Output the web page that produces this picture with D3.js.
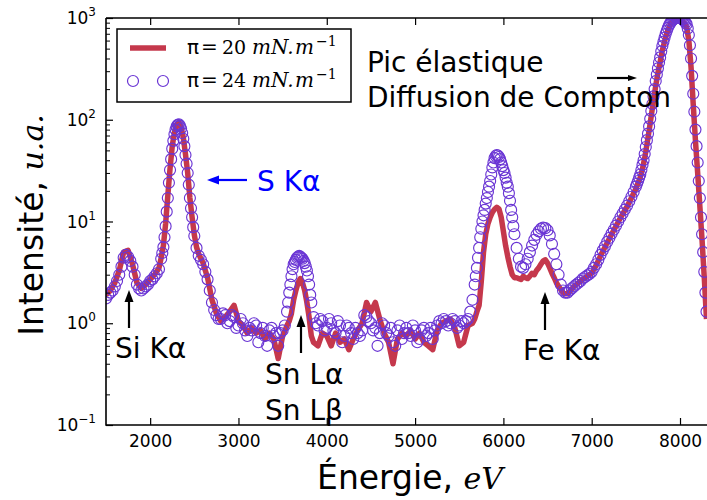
<!DOCTYPE html>
<html><head><meta charset="utf-8">
<script src="https://cdn.jsdelivr.net/npm/d3@7"></script>
<style>body{margin:0;background:#fff} svg{display:block}</style>
</head><body>
<svg id="chart" width="707" height="500"></svg>
<script>
// ---------------- DATA ----------------
// energies of the pi = 20 mN/m line
const energy20 = [1500,1550,1600,1650,1700,1750,1800,1850,1900,1950,2000,2050,
2100,2125,2150,2175,2200,2225,2250,2275,2300,2325,2350,2375,2400,2425,2450,2475,2500,2525,2550,2575,2600,2625,
2650,2700,2750,2800,2850,2900,2950,3000,3050,3100,3150,3200,3250,3300,3350,3400,3450,3500,
3550,3575,3600,3625,3650,3675,3700,3725,3750,3775,3800,3825,
3850,3900,3950,4000,4050,4100,4150,4200,4250,4300,4350,4400,4450,4500,4550,4600,4650,4700,4750,4800,4850,4900,4950,5000,5050,5100,5150,5200,5250,5300,5350,5400,5450,5500,5550,5600,
5650,5675,5700,5725,5750,5775,5800,5825,5850,5875,5900,5925,5950,5975,6000,6025,6050,6075,6100,6125,6150,6175,6200,6225,6250,6275,6300,6325,6350,6375,6400,6425,6450,6475,6500,6525,6550,6575,6600,6625,6650,6675,6700,6725,
6750,6800,6850,6900,6950,7000,7050,7100,7150,7200,7250,7300,7350,7400,
7450,7475,7500,7525,7550,7575,7600,7625,7650,7675,7700,7725,7750,7775,7800,7825,7850,7875,7900,7925,7950,7975,8000,8025,8050,8075,8100,8125,8150,8175,8200,8225,8250,8275,8300];

// intensity, pi = 20 mN/m (line)
const pi20 = [1.9,2.1,2.5,3.3,5.0,5.2,3.8,2.5,2.2,2.4,2.7,3.0,
3.5,4.4,5.8,9.5,18,33,55,75,90,94,85,67,46,30,17,11,7.4,5.6,4.8,4.3,3.9,3.3,
2.8,1.7,1.25,1.05,1.15,1.3,1.5,1.05,0.95,0.8,0.9,0.8,0.85,0.7,0.8,0.7,0.45,0.75,
0.95,1.05,1.25,1.7,2.1,2.5,2.75,2.5,2.1,1.6,1.15,0.75,
0.65,0.6,0.8,0.75,0.6,0.8,0.65,0.7,0.55,0.7,0.85,1.0,1.6,1.3,1.6,1.1,0.8,0.65,0.4,0.7,0.8,0.75,0.85,0.7,0.8,0.65,0.6,0.55,0.85,1.0,1.05,1.1,0.9,0.6,0.65,0.95,
1.0,1.1,1.3,1.5,2.6,5.0,7.5,9.5,11,12.3,13.2,13.8,13.3,11,8,5.8,4.5,3.6,3.0,2.8,2.8,2.75,2.7,2.9,2.8,2.75,2.9,3.1,3.0,3.3,3.5,3.8,4.1,4.2,3.9,3.5,3.1,2.8,2.5,2.3,2.15,2.0,1.95,1.95,
2.05,2.3,2.5,2.7,2.9,3.1,3.7,4.6,5.6,6.8,8.2,9.9,11.8,14,
17,19,21,24,27,33,42,57,78,110,155,215,290,370,480,590,700,810,890,940,970,980,970,940,890,810,600,330,140,62,30,14,6.5,2.8,1.1];

// energies of the pi = 24 mN/m points (regular samples)
const energy24 = [1500,1525,1550,1575,1600,1625,1650,1675,1700,1725,1750,1775,1800,1825,1850,1875,1900,1925,1950,1975,
2000,2025,2050,2075,2100,2125,2150,2175,2200,2225,2250,2275,2300,2325,2350,2375,2400,2425,2450,2475,
2500,2525,2550,2575,2600,2625,2650,2675,2700,2725,2750,2775,2800,2825,2850,2875,2900,2925,2950,2975,
3000,3025,3050,3075,3100,3125,3150,3175,3200,3225,3250,3275,3300,3325,3350,3375,3400,3425,3450,3475,
3500,3525,3550,3575,3600,3625,3650,3675,3700,3725,3750,3775,3800,3825,3850,3875,3900,3925,3950,3975,
4000,4025,4050,4075,4100,4125,4150,4175,4200,4225,4250,4275,4300,4325,4350,4375,4400,4425,4450,4475,
4500,4525,4550,4575,4600,4625,4650,4675,4700,4725,4750,4775,4800,4825,4850,4875,4900,4925,4950,4975,
5000,5025,5050,5075,5100,5125,5150,5175,5200,5225,5250,5275,5300,5325,5350,5375,5400,5425,5450,5475,
5500,5525,5550,5575,5600,5625,5650,5675,5700,5725,5750,5775,5800,5825,5850,5875,5900,5925,5950,5975,
6000,6025,6050,6075,6100,6125,6150,6175,6200,6225,6250,6275,6300,6325,6350,6375,6400,6425,6450,6475,
6500,6525,6550,6575,6600,6625,6650,6675,6700,6725,6750,6775,6800,6825,6850,6875,6900,6925,6950,6975,
7000,7025,7050,7075,7100,7125,7150,7175,7200,7225,7250,7275,7300,7325,7350,7375,7400,7425,7450,7475,
7500,7525,7550,7575,7600,7625,7650,7675,7700,7725,7750,7775,7800,7825,7850,7875,7900,7925,7950,7975,
8000,8025,8050,8075,8100,8125,8150,8175,8200,8225,8250,8275,8300];

// intensity, pi = 24 mN/m (open circles)
const pi24 = [1.75,1.9,2.0,2.1,2.3,2.6,
3.0,3.6,4.4,4.7,4.5,4.1,3.6,3.0,2.4,2.2,2.1,2.2,2.3,2.4,2.6,2.7,2.9,3.1,
3.4,4.3,5.6,9,17,32,52,72,86,90,82,65,45,30,17,11,7.2,5.5,4.6,4.2,3.8,3.2,
2.7,2.1,1.6,1.35,1.2,1.1,1.1,1.25,1.2,1.0,1.05,1.2,1.15,0.9,0.95,1.1,1.0,0.85,0.75,0.9,0.85,1.0,0.95,0.65,0.8,0.9,0.75,0.6,0.85,0.9,0.75,0.8,0.6,0.8,0.85,0.95,
1.3,2.0,2.9,3.8,4.2,4.5,4.5,4.3,3.9,3.3,2.4,1.6,
1.15,1.0,0.95,1.1,1.05,0.85,0.9,1.1,1.0,0.85,0.8,1.05,0.95,0.65,0.75,0.95,0.9,0.8,0.7,0.9,0.8,0.75,0.85,1.2,1.15,1.05,1.0,0.85,0.9,0.6,0.8,1.0,0.95,0.8,0.75,0.9,0.65,0.6,0.85,0.95,
0.7,0.8,0.9,0.8,0.75,0.95,0.85,0.65,0.7,0.85,0.9,0.75,0.8,0.9,0.7,0.85,0.95,1.05,1.0,1.1,1.05,0.95,1.0,1.1,1.05,0.9,0.95,1.05,1.0,1.05,1.1,1.3,
1.7,2.4,3.5,5.5,8.5,11.5,15,19.5,25,34,42,45,43,38,32,27,22,16,11,7.5,5.5,4.3,3.6,3.5,3.8,4.3,5.0,5.8,6.6,7.4,8.0,8.5,8.7,8.6,8.2,7.3,6.0,4.8,3.8,3.0,2.4,2.1,2.0,2.0,
2.1,2.2,2.3,2.4,2.5,2.6,2.75,2.85,2.95,3.05,3.2,3.5,3.8,4.2,4.7,5.2,5.7,6.3,6.9,7.6,8.3,9.1,10,11,12,13.1,14.3,15.8,
17.5,19.5,22,25,29,36,46,63,86,122,170,240,320,410,530,640,750,850,920,970,1000,1010,1000,980,930,870,680,400,180,80,38,17,7.5,3.2,1.3];

// extra pi = 24 samples on the steep peak flanks
const energy24Peaks = [2137.5,2162.5,2187.5,2212.5,2237.5,2262.5,2287.5,2312.5,2337.5,2362.5,2387.5,2412.5,2437.5,2462.5,2487.5,
3562.5,3587.5,3612.5,3637.5,3662.5,3687.5,3712.5,3737.5,3762.5,3787.5,3812.5,
5687.5,5712.5,5737.5,5762.5,5787.5,5812.5,5837.5,5862.5,5887.5,5912.5,5937.5,5962.5,5987.5,6012.5,6037.5,6062.5,6087.5,6112.5,
7512.5,7537.5,7562.5,7587.5,7612.5,7637.5,7662.5,7687.5,7712.5,7737.5,7762.5,7787.5,7812.5,7837.5,7862.5,7887.5,7912.5,7937.5,7962.5,7987.5,8012.5,8037.5,8062.5,8087.5,8112.5,8137.5,8162.5,8187.5,8212.5,8237.5,8262.5,8287.5];
const pi24Peaks = [4.9,7.0,12.5,24,41,62,80,89,87,74,55,37,23,13.5,8.8,
1.6,2.4,3.4,4.0,4.4,4.6,4.4,4.1,3.6,2.9,1.9,
2.9,4.4,7.0,10,13,17,22,29,38,44,44.5,41,35,30,24,19,13,9,
23.5,27,32,40,54,73,102,143,200,278,365,470,585,695,800,885,945,985,1005,1005,990,955,900,790,540,270,120,55,25,11,5,2];

const xTicks = [2000,3000,4000,5000,6000,7000,8000];
const yTickExponents = [-1,0,1,2,3];
const seriesNames = ["20","24"];

// ---------------- LAYOUT ----------------
const svg = d3.select("#chart");
const L = 106, R = 706.5, T = 18, B = 425;
const x = d3.scaleLinear().domain([1500, 8300]).range([L, R]);
const y = d3.scaleLog().domain([0.1, 1000]).range([B, T]);
const RED = "#c5384c", PURPLE = "#6a35d4";
const SANS = "DejaVu Sans", SERIF = "DejaVu Serif";

svg.append("defs").append("clipPath").attr("id","clip")
  .append("rect").attr("x",L).attr("y",T).attr("width",R-L+2).attr("height",B-T);

const dataG = svg.append("g").attr("clip-path","url(#clip)");
const pts20 = energy20.map((e,i)=>({e, v:pi20[i]}));
const pts24 = energy24.map((e,i)=>({e, v:pi24[i]}))
  .concat(energy24Peaks.map((e,i)=>({e, v:pi24Peaks[i]})));

dataG.append("path").datum(pts20)
  .attr("d", d3.line().x(d=>x(d.e)).y(d=>y(d.v)))
  .attr("fill","none").attr("stroke",RED).attr("stroke-width",5.5)
  .attr("stroke-linejoin","round");

dataG.selectAll("circle.p24").data(pts24).enter().append("circle")
  .attr("class","p24")
  .attr("cx",d=>x(d.e)).attr("cy",d=>y(d.v)).attr("r",5.5)
  .attr("fill","none").attr("stroke",PURPLE).attr("stroke-width",1.15);

// ---------------- AXES ----------------
const axB = svg.append("g").attr("transform",`translate(0,${B})`)
  .call(d3.axisBottom(x).tickValues(xTicks).tickFormat(d3.format("d")).tickSizeInner(-7).tickSizeOuter(0).tickPadding(10));
axB.select(".domain").remove();
axB.selectAll("text").attr("font-family",SANS).attr("font-size",17).attr("fill","#000");
axB.selectAll("line").attr("stroke","#000").attr("stroke-width",1.2);

const axT = svg.append("g").attr("transform",`translate(0,${T})`)
  .call(d3.axisTop(x).tickValues(xTicks).tickSizeInner(-7).tickSizeOuter(0).tickFormat(""));
axT.select(".domain").remove();
axT.selectAll("line").attr("stroke","#000").attr("stroke-width",1.2);

const majorY = yTickExponents.map(p=>Math.pow(10,p));
const minorY = y.ticks().filter(v=>!majorY.some(m=>Math.abs(m-v)/m<1e-6));
const axL = svg.append("g").attr("transform",`translate(${L},0)`)
  .call(d3.axisLeft(y).tickValues(majorY).tickSizeInner(-7).tickSizeOuter(0).tickFormat(""));
axL.select(".domain").remove();
axL.selectAll("line").attr("stroke","#000").attr("stroke-width",1.2);
const axLm = svg.append("g").attr("transform",`translate(${L},0)`)
  .call(d3.axisLeft(y).tickValues(minorY).tickSizeInner(-4).tickSizeOuter(0).tickFormat(""));
axLm.select(".domain").remove();
axLm.selectAll("line").attr("stroke","#000").attr("stroke-width",1);

// y tick labels 10^n
yTickExponents.forEach(p=>{
  const t = svg.append("text").attr("x",96).attr("y",y(Math.pow(10,p))+6)
    .attr("text-anchor","end").attr("font-family",SANS).attr("font-size",17).attr("fill","#000");
  t.append("tspan").text("10");
  t.append("tspan").attr("dy",-8).attr("font-size",12).text(p<0 ? "\u2212"+(-p) : String(p));
});

// spines
svg.append("path").attr("d",`M${L},${T}V${B}H707M${L},${T}H707`)
  .attr("fill","none").attr("stroke","#000").attr("stroke-width",1.6);

// axis labels
const xl = svg.append("text").attr("x",410).attr("y",489).attr("text-anchor","middle")
  .attr("font-family",SANS).attr("font-size",33).attr("fill","#000");
xl.append("tspan").text("Énergie, ");
xl.append("tspan").attr("font-family",SERIF).attr("font-style","italic").attr("font-size",30).text("eV");

const yl = svg.append("text").attr("transform","translate(43,225) rotate(-90)").attr("text-anchor","middle")
  .attr("font-family",SANS).attr("font-size",33).attr("fill","#000");
yl.append("tspan").text("Intensité, ");
yl.append("tspan").attr("font-family",SERIF).attr("font-style","italic").attr("font-size",30).text("u.a.");

// ---------------- LEGEND ----------------
const lg = svg.append("g");
lg.append("rect").attr("x",117).attr("y",29).attr("width",234).attr("height",73)
  .attr("fill","#fff").attr("stroke","#000").attr("stroke-width",1.5);
lg.append("line").attr("x1",130).attr("x2",166).attr("y1",48).attr("y2",48)
  .attr("stroke",RED).attr("stroke-width",5.5);
[133,163].forEach(cx=>lg.append("circle").attr("cx",cx).attr("cy",81).attr("r",5.5)
  .attr("fill","none").attr("stroke",PURPLE).attr("stroke-width",1.2));
seriesNames.forEach((n,i)=>{
  const by = 54 + i*33;
  const t = lg.append("text").attr("y",by).attr("fill","#000").attr("font-size",20);
  t.append("tspan").attr("x",187).attr("font-family",SANS).text("π");
  t.append("tspan").attr("x",201).attr("font-family",SERIF).text("=");
  t.append("tspan").attr("x",222).attr("font-family",SERIF).attr("font-size",19).text(n);
  t.append("tspan").attr("x",252).attr("font-family",SERIF).attr("font-style","italic").text("mN.");
  t.append("tspan").attr("x",295).attr("font-family",SERIF).attr("font-style","italic").text("m");
  t.append("tspan").attr("x",316).attr("dy",-8).attr("font-family",SERIF).attr("font-size",14).text("\u22121");
});

// ---------------- ANNOTATIONS ----------------
function arrow(x1,y1,x2,y2,color,hl,hw){
  const dx=x2-x1, dy=y2-y1, len=Math.hypot(dx,dy), ux=dx/len, uy=dy/len;
  const bx=x2-ux*hl, by=y2-uy*hl;
  svg.append("line").attr("x1",x1).attr("y1",y1).attr("x2",bx).attr("y2",by)
    .attr("stroke",color).attr("stroke-width",2.2);
  svg.append("path").attr("d",`M${x2},${y2}L${bx-uy*hw},${by+ux*hw}L${bx+uy*hw},${by-ux*hw}Z`)
    .attr("fill",color);
}
function label(txt,xx,yy,color){
  svg.append("text").attr("x",xx).attr("y",yy).attr("font-family",SANS).attr("font-size",28)
    .attr("fill",color||"#000").text(txt);
}
arrow(247,180,207,180,"#0000ff",12,4.5);
label("S Kα",257,191,"#0000ff");
arrow(129,328,129,290,"#000",12,4.5);
label("Si Kα",115,358);
arrow(301,353,301,315,"#000",12,4.5);
label("Sn Lα",265,384);
label("Sn Lβ",265,420);
arrow(545,330,545,292,"#000",12,4.5);
label("Fe Kα",523,360);
label("Pic élastique",367,72);
label("Diffusion de Compton",367,107);
arrow(597,78,637,78,"#000",9,3);
</script>
</body></html>
